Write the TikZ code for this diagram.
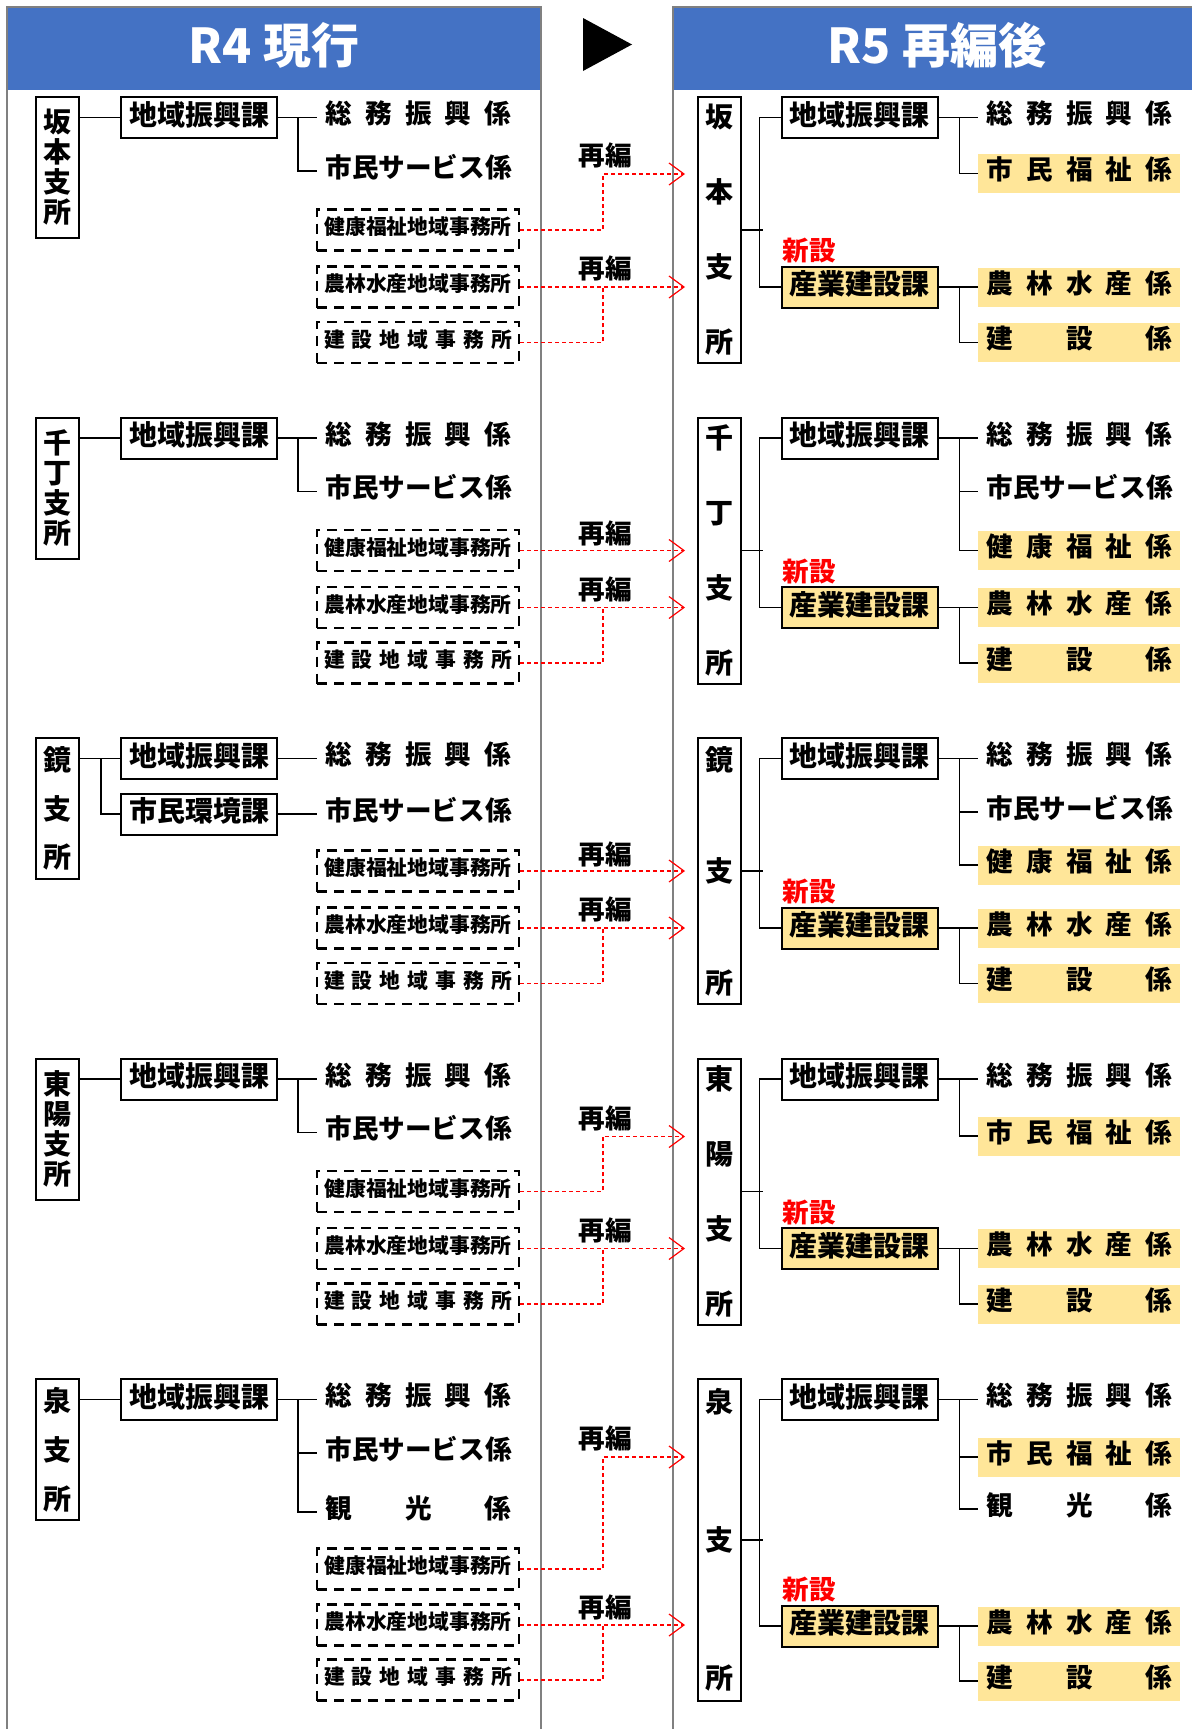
\documentclass[tikz,border=0pt]{standalone}
\usepackage{fontspec}
\setmainfont{Noto Sans CJK JP}
\usepackage{xcolor}
\usepackage{tikz}
\usetikzlibrary{arrows.meta,positioning}
\definecolor{headblue}{HTML}{4472C4}
\definecolor{newfill}{HTML}{FFE699}
\definecolor{panelgray}{HTML}{808080}
\newcommand{\spread}[2][93pt]{\makebox[#1][s]{#2}}

\begin{document}
\begin{tikzpicture}[
  x=0.5pt,y=-0.5pt,
  >={Straight Barb[length=7.5pt,width=11pt]},
  every node/.style={font=\bfseries},
  head/.style={fill=headblue,text=white,minimum height=41.5pt,inner sep=0,text height=17pt,text depth=2.1pt,font=\fontsize{24pt}{27pt}\selectfont\bfseries},
  shisho/.style={draw,line width=1pt,minimum width=21.5pt,inner sep=0,align=center,font=\fontsize{14pt}{15pt}\selectfont\bfseries},
  ka/.style={draw,line width=1pt,minimum width=78pt,minimum height=20.5pt,inner sep=0,text height=9.1pt,text depth=1.4pt,font=\fontsize{14pt}{16pt}\selectfont\bfseries},
  shin/.style={ka,fill=newfill},
  kakari/.style={anchor=west,inner xsep=4pt,inner ysep=0,minimum height=19.5pt,text height=8pt,text depth=1.9pt,font=\fontsize{13.3pt}{15pt}\selectfont\bfseries},
  hl/.style={kakari,fill=newfill},
  office/.style={draw,dash pattern=on 5pt off 3.5pt,line width=1.1pt,minimum width=101pt,minimum height=20.5pt,inner sep=0,text height=6.2pt,text depth=1.3pt,font=\fontsize{10.4pt}{12pt}\selectfont\bfseries},
  link/.style={line width=0.9pt},
  move/.style={draw=red,dash pattern=on 2pt off 1.5pt,line width=0.6pt},
  remark/.style={font=\fontsize{13.3pt}{15pt}\selectfont\bfseries},
  newlbl/.style={text=red,inner sep=1pt,font=\fontsize{13.3pt}{15pt}\selectfont\bfseries}
]
  \useasboundingbox (0,0) rectangle (1192,1729);
  \fill[white] (0,0) rectangle (1192,1729);
  \node[head,minimum width=267pt] (hL) at (274,48.5) {R4 現行};
  \node[head,minimum width=264pt] (hR) at (937,48.5) {R5 再編後};
  \draw[panelgray,line width=0.75pt] (7,7) rectangle (541,1760);
  \draw[panelgray,line width=0.75pt] (673,7) rectangle (1210,1760);
  \fill (583,18) -- (632,44.5) -- (583,71) -- cycle;

  \begin{scope}
    \node[shisho,minimum height=70.5pt] (s1) at (57.5,167.5) {坂\\本\\支\\所};
    \node[ka] (k1) at (199,117.5) {地域振興課};
    \node[kakari] (so1) at (317,117.5) {\spread{総\hfill 務\hfill 振\hfill 興\hfill 係}};
    \node[kakari] (sv1) at (317,171) {市民サービス係};
    \node[office] (f1) at (418,230) {健康福祉地域事務所};
    \node[office] (n1) at (418,287) {農林水産地域事務所};
    \node[office] (c1) at (418,342.5) {\spread[94pt]{建\hfill 設\hfill 地\hfill 域\hfill 事\hfill 務\hfill 所}};
    \draw[link] (s1.east |- k1.west) -- (k1.west);
    \draw[link] (k1.east) -- (so1.west);
    \draw[link] (k1.east) ++(20,0) |- (sv1.west);
    \node[shisho,minimum height=133pt] (S1) at (719,230) {坂\\[22.5pt]本\\[22.5pt]支\\[22.5pt]所};
    \node[ka] (K1) at (859.5,117.5) {地域振興課};
    \node[shin] (N1) at (859.5,287) {産業建設課};
    \node[newlbl,above right=0pt of N1.north west] (new1) {新設};
    \node[kakari] (RS1) at (978,117.5) {\spread{総\hfill 務\hfill 振\hfill 興\hfill 係}};
    \node[hl] (RF1) at (978,173.5) {\spread{市\hfill 民\hfill 福\hfill 祉\hfill 係}};
    \node[hl] (RN1) at (978,287) {\spread{農\hfill 林\hfill 水\hfill 産\hfill 係}};
    \node[hl] (RC1) at (978,342.5) {\spread{建\hfill 設\hfill 係}};
    \draw[link] (S1.east) -- ++(21,0);
    \draw[link] (K1.west) -- ++(-21,0) |- (N1.west);
    \draw[link] (K1.east) -- (RS1.west);
    \draw[link] (K1.east) ++(21,0) |- (RF1.west);
    \draw[link] (N1.east) -- (RN1.west);
    \draw[link] (N1.east) ++(21,0) |- (RC1.west);
    \coordinate (b1a) at (603,174); \coordinate (t1a) at (685,174);
    \coordinate (b1b) at (603,287); \coordinate (t1b) at (685,287);
    \draw[move,->] (f1.east) -| (b1a) -- (t1a);
    \draw[move,->] (n1.east) -- (t1b);
    \draw[move] (c1.east) -| (b1b);
    \node[remark] (m1a) at (605,155) {再編};
    \node[remark] (m1b) at (605,268) {再編};
  \end{scope}

  \begin{scope}[shift={(0,320.5)}]
    \node[shisho,minimum height=70.5pt] (s2) at (57.5,167.5) {千\\丁\\支\\所};
    \node[ka] (k2) at (199,117.5) {地域振興課};
    \node[kakari] (so2) at (317,117.5) {\spread{総\hfill 務\hfill 振\hfill 興\hfill 係}};
    \node[kakari] (sv2) at (317,171) {市民サービス係};
    \node[office] (f2) at (418,230) {健康福祉地域事務所};
    \node[office] (n2) at (418,287) {農林水産地域事務所};
    \node[office] (c2) at (418,342.5) {\spread[94pt]{建\hfill 設\hfill 地\hfill 域\hfill 事\hfill 務\hfill 所}};
    \draw[link] (s2.east |- k2.west) -- (k2.west);
    \draw[link] (k2.east) -- (so2.west);
    \draw[link] (k2.east) ++(20,0) |- (sv2.west);
    \node[shisho,minimum height=133pt] (S2) at (719,230) {千\\[22.5pt]丁\\[22.5pt]支\\[22.5pt]所};
    \node[ka] (K2) at (859.5,117.5) {地域振興課};
    \node[shin] (N2) at (859.5,287) {産業建設課};
    \node[newlbl,above right=0pt of N2.north west] (new2) {新設};
    \node[kakari] (RS2) at (978,117.5) {\spread{総\hfill 務\hfill 振\hfill 興\hfill 係}};
    \node[kakari] (RV2) at (978,171) {市民サービス係};
    \node[hl] (RF2) at (978,230) {\spread{健\hfill 康\hfill 福\hfill 祉\hfill 係}};
    \node[hl] (RN2) at (978,287) {\spread{農\hfill 林\hfill 水\hfill 産\hfill 係}};
    \node[hl] (RC2) at (978,342.5) {\spread{建\hfill 設\hfill 係}};
    \draw[link] (S2.east) -- ++(21,0);
    \draw[link] (K2.west) -- ++(-21,0) |- (N2.west);
    \draw[link] (K2.east) -- (RS2.west);
    \draw[link] (K2.east) ++(21,0) |- (RV2.west);
    \draw[link] (K2.east) ++(21,0) |- (RF2.west);
    \draw[link] (N2.east) -- (RN2.west);
    \draw[link] (N2.east) ++(21,0) |- (RC2.west);
    \coordinate (t2a) at (685,230);
    \coordinate (b2b) at (603,287); \coordinate (t2b) at (685,287);
    \draw[move,->] (f2.east) -- (t2a);
    \draw[move,->] (n2.east) -- (t2b);
    \draw[move] (c2.east) -| (b2b);
    \node[remark] (m2a) at (605,213) {再編};
    \node[remark] (m2b) at (605,269) {再編};
  \end{scope}

  \begin{scope}[shift={(0,641)}]
    \node[shisho,minimum height=70.5pt] (s3) at (57.5,167.5) {鏡\\[9.25pt]支\\[9.25pt]所};
    \node[ka] (k3) at (199,117.5) {地域振興課};
    \node[ka] (e3) at (199,173) {市民環境課};
    \node[kakari] (so3) at (317,117.5) {\spread{総\hfill 務\hfill 振\hfill 興\hfill 係}};
    \node[kakari] (sv3) at (317,173) {市民サービス係};
    \node[office] (f3) at (418,230) {健康福祉地域事務所};
    \node[office] (n3) at (418,287) {農林水産地域事務所};
    \node[office] (c3) at (418,342.5) {\spread[94pt]{建\hfill 設\hfill 地\hfill 域\hfill 事\hfill 務\hfill 所}};
    \draw[link] (s3.east |- k3.west) -- (k3.west);
    \draw[link] (s3.east |- k3.west) ++(21,0) |- (e3.west);
    \draw[link] (k3.east) -- (so3.west);
    \draw[link] (e3.east) -- (sv3.west);
    \node[shisho,minimum height=133pt] (S3) at (719,230) {鏡\\[40.75pt]支\\[40.75pt]所};
    \node[ka] (K3) at (859.5,117.5) {地域振興課};
    \node[shin] (N3) at (859.5,287) {産業建設課};
    \node[newlbl,above right=0pt of N3.north west] (new3) {新設};
    \node[kakari] (RS3) at (978,117.5) {\spread{総\hfill 務\hfill 振\hfill 興\hfill 係}};
    \node[kakari] (RV3) at (978,171) {市民サービス係};
    \node[hl] (RF3) at (978,224) {\spread{健\hfill 康\hfill 福\hfill 祉\hfill 係}};
    \node[hl] (RN3) at (978,287) {\spread{農\hfill 林\hfill 水\hfill 産\hfill 係}};
    \node[hl] (RC3) at (978,342.5) {\spread{建\hfill 設\hfill 係}};
    \draw[link] (S3.east) -- ++(21,0);
    \draw[link] (K3.west) -- ++(-21,0) |- (N3.west);
    \draw[link] (K3.east) -- (RS3.west);
    \draw[link] (K3.east) ++(21,0) |- (RV3.west);
    \draw[link] (K3.east) ++(21,0) |- (RF3.west);
    \draw[link] (N3.east) -- (RN3.west);
    \draw[link] (N3.east) ++(21,0) |- (RC3.west);
    \coordinate (t3a) at (685,230);
    \coordinate (b3b) at (603,287); \coordinate (t3b) at (685,287);
    \draw[move,->] (f3.east) -- (t3a);
    \draw[move,->] (n3.east) -- (t3b);
    \draw[move] (c3.east) -| (b3b);
    \node[remark] (m3a) at (605,213) {再編};
    \node[remark] (m3b) at (605,268) {再編};
  \end{scope}

  \begin{scope}[shift={(0,961.5)}]
    \node[shisho,minimum height=70.5pt] (s4) at (57.5,167.5) {東\\陽\\支\\所};
    \node[ka] (k4) at (199,117.5) {地域振興課};
    \node[kakari] (so4) at (317,117.5) {\spread{総\hfill 務\hfill 振\hfill 興\hfill 係}};
    \node[kakari] (sv4) at (317,171) {市民サービス係};
    \node[office] (f4) at (418,230) {健康福祉地域事務所};
    \node[office] (n4) at (418,287) {農林水産地域事務所};
    \node[office] (c4) at (418,342.5) {\spread[94pt]{建\hfill 設\hfill 地\hfill 域\hfill 事\hfill 務\hfill 所}};
    \draw[link] (s4.east |- k4.west) -- (k4.west);
    \draw[link] (k4.east) -- (so4.west);
    \draw[link] (k4.east) ++(20,0) |- (sv4.west);
    \node[shisho,minimum height=133pt] (S4) at (719,230) {東\\[22.5pt]陽\\[22.5pt]支\\[22.5pt]所};
    \node[ka] (K4) at (859.5,117.5) {地域振興課};
    \node[shin] (N4) at (859.5,287) {産業建設課};
    \node[newlbl,above right=0pt of N4.north west] (new4) {新設};
    \node[kakari] (RS4) at (978,117.5) {\spread{総\hfill 務\hfill 振\hfill 興\hfill 係}};
    \node[hl] (RF4) at (978,174.5) {\spread{市\hfill 民\hfill 福\hfill 祉\hfill 係}};
    \node[hl] (RN4) at (978,287) {\spread{農\hfill 林\hfill 水\hfill 産\hfill 係}};
    \node[hl] (RC4) at (978,342.5) {\spread{建\hfill 設\hfill 係}};
    \draw[link] (S4.east) -- ++(21,0);
    \draw[link] (K4.west) -- ++(-21,0) |- (N4.west);
    \draw[link] (K4.east) -- (RS4.west);
    \draw[link] (K4.east) ++(21,0) |- (RF4.west);
    \draw[link] (N4.east) -- (RN4.west);
    \draw[link] (N4.east) ++(21,0) |- (RC4.west);
    \coordinate (b4a) at (603,175); \coordinate (t4a) at (685,175);
    \coordinate (b4b) at (603,287); \coordinate (t4b) at (685,287);
    \draw[move,->] (f4.east) -| (b4a) -- (t4a);
    \draw[move,->] (n4.east) -- (t4b);
    \draw[move] (c4.east) -| (b4b);
    \node[remark] (m4a) at (605,157) {再編};
    \node[remark] (m4b) at (605,269) {再編};
  \end{scope}

  \begin{scope}[shift={(0,1282)}]
    \node[shisho,minimum height=70.5pt] (s5) at (57.5,167.5) {泉\\[9.5pt]支\\[9.5pt]所};
    \node[ka] (k5) at (199,117.5) {地域振興課};
    \node[kakari] (so5) at (317,117.5) {\spread{総\hfill 務\hfill 振\hfill 興\hfill 係}};
    \node[kakari] (sv5) at (317,171) {市民サービス係};
    \node[kakari] (ks5) at (317,230) {\spread{観\hfill 光\hfill 係}};
    \node[office] (f5) at (418,287) {健康福祉地域事務所};
    \node[office] (n5) at (418,343) {農林水産地域事務所};
    \node[office] (c5) at (418,398) {\spread[94pt]{建\hfill 設\hfill 地\hfill 域\hfill 事\hfill 務\hfill 所}};
    \draw[link] (s5.east |- k5.west) -- (k5.west);
    \draw[link] (k5.east) -- (so5.west);
    \draw[link] (k5.east) ++(20,0) |- (sv5.west);
    \draw[link] (k5.east) ++(20,0) |- (ks5.west);
    \node[shisho,minimum height=161pt] (S5) at (719,258) {泉\\[54pt]支\\[54pt]所};
    \node[ka] (K5) at (859.5,117.5) {地域振興課};
    \node[shin] (N5) at (859.5,344) {産業建設課};
    \node[newlbl,above right=0pt of N5.north west] (new5) {新設};
    \node[kakari] (RS5) at (978,117.5) {\spread{総\hfill 務\hfill 振\hfill 興\hfill 係}};
    \node[hl] (RF5) at (978,175) {\spread{市\hfill 民\hfill 福\hfill 祉\hfill 係}};
    \node[kakari] (RK5) at (978,227) {\spread{観\hfill 光\hfill 係}};
    \node[hl] (RN5) at (978,344) {\spread{農\hfill 林\hfill 水\hfill 産\hfill 係}};
    \node[hl] (RC5) at (978,399) {\spread{建\hfill 設\hfill 係}};
    \draw[link] (S5.east) -- ++(21,0);
    \draw[link] (K5.west) -- ++(-21,0) |- (N5.west);
    \draw[link] (K5.east) -- (RS5.west);
    \draw[link] (K5.east) ++(21,0) |- (RF5.west);
    \draw[link] (K5.east) ++(21,0) |- (RK5.west);
    \draw[link] (N5.east) -- (RN5.west);
    \draw[link] (N5.east) ++(21,0) |- (RC5.west);
    \coordinate (b5a) at (603,175); \coordinate (t5a) at (685,175);
    \coordinate (b5b) at (603,343); \coordinate (t5b) at (685,343);
    \draw[move,->] (f5.east) -| (b5a) -- (t5a);
    \draw[move,->] (n5.east) -- (t5b);
    \draw[move] (c5.east) -| (b5b);
    \node[remark] (m5a) at (605,156) {再編};
    \node[remark] (m5b) at (605,325) {再編};
  \end{scope}
\end{tikzpicture}
\end{document}
